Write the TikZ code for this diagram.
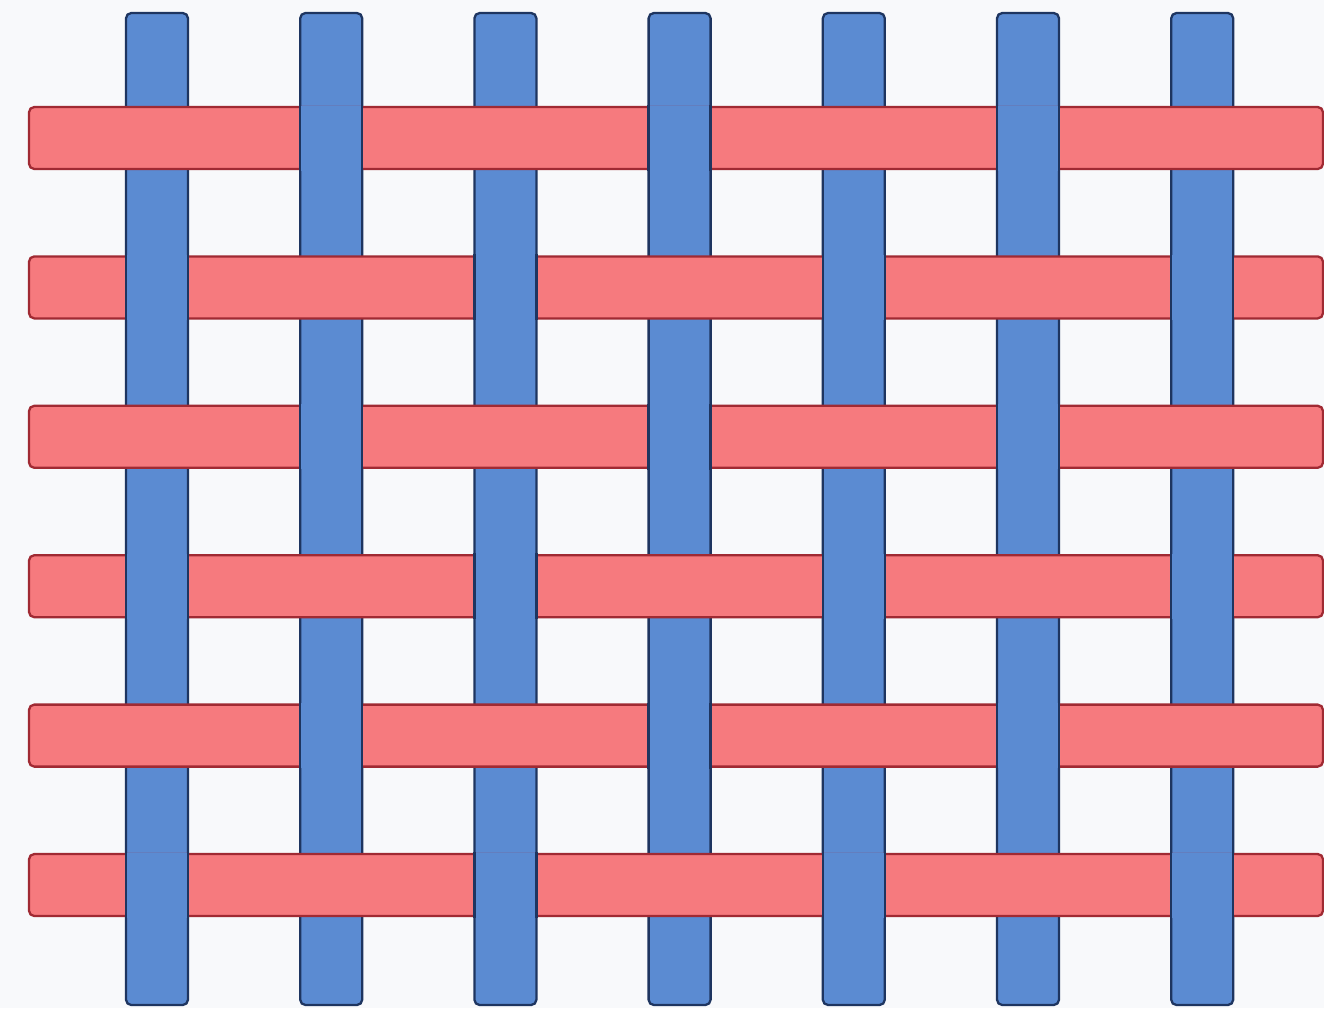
\documentclass[tikz,border=0pt]{standalone}
\usepackage{tikz}
\usetikzlibrary{calc}

\definecolor{paper}{HTML}{F8F9FB}
\definecolor{warpfill}{HTML}{5B8BD2}
\definecolor{warpline}{HTML}{1E3560}
\definecolor{weftfill}{HTML}{F67A7E}
\definecolor{weftline}{HTML}{A02A33}

\begin{document}
\begin{tikzpicture}[
			x=0.02cm, y=-0.02cm,
			warp/.style={
				draw=warpline, fill=warpfill,
				line width=1.3pt, rounded corners=3pt
			},
			weft/.style={
				draw=weftline, fill=weftfill,
				line width=1.3pt, rounded corners=3pt
			},
			warpedge/.style={draw=warpline, line width=1.3pt}
			]
			
			% ---------------- background ----------------
			\fill[paper] (0,0) rectangle (1324,1008);
			\useasboundingbox (0,0) rectangle (1324,1008);
			
			% ---------------- warp (blue, vertical) ----------------
			\foreach \c in {0,...,6}{
				\pgfmathsetmacro{\cx}{157+174.2*\c}
				\draw[warp] (\cx-31,13) rectangle (\cx+31,1005);
			}
			
			% ---------------- weft (red, horizontal) ----------------
			\foreach \r in {0,...,5}{
				\pgfmathsetmacro{\ry}{138+149.4*\r}
				\draw[weft] (29,\ry-31) rectangle (1323,\ry+31);
			}
			
			% ---------------- crossings: warp on top ----------------
			\foreach \r in {0,...,5}{
				\foreach \c in {0,...,6}{
					\pgfmathtruncatemacro{\warpup}{mod(\r+\c,2)}
					\pgfmathsetmacro{\cx}{157+174.2*\c}
					\pgfmathsetmacro{\ry}{138+149.4*\r}
					\ifnum\warpup=1
						\fill[warpfill] (\cx-31,\ry-32.5) rectangle (\cx+31,\ry+32.5);
						\draw[warpedge] (\cx-31,\ry-33) -- (\cx-31,\ry+33);
						\draw[warpedge] (\cx+31,\ry-33) -- (\cx+31,\ry+33);
					\fi
				}
			}
		\end{tikzpicture}
\end{document}
